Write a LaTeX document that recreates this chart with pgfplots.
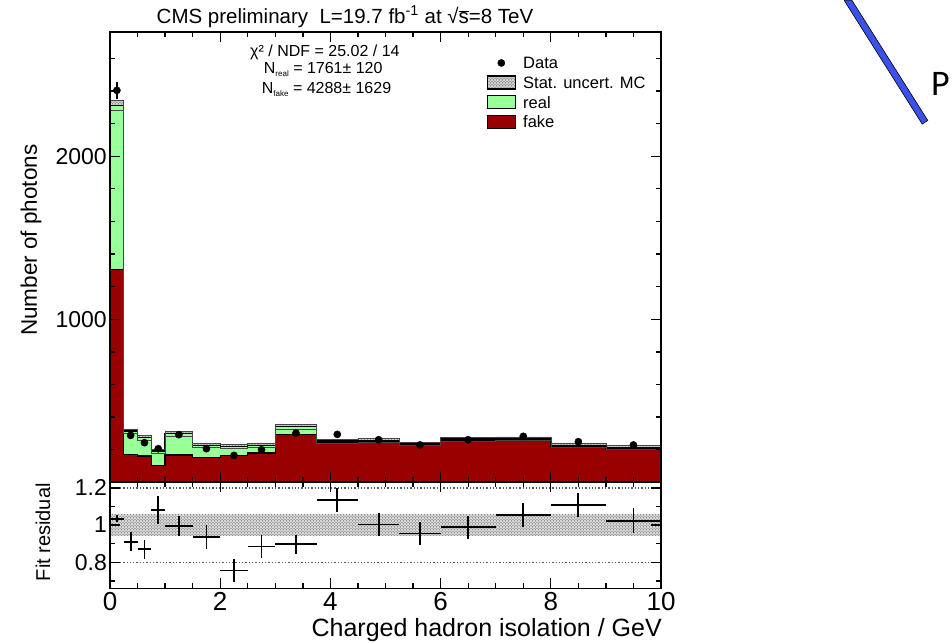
\documentclass[border=0pt]{standalone}
\usepackage{pgfplots}
\pgfplotsset{compat=1.18}
\usepackage{pgfplotstable}
\usepgfplotslibrary{fillbetween}
\usetikzlibrary{patterns}
\usepackage{fontspec}
\setmainfont{Liberation Sans}
\newfontfamily\pfont{Carlito}
\definecolor{realgreen}{RGB}{153,255,153}
\definecolor{fakered}{RGB}{153,0,0}
\definecolor{slideblue}{RGB}{60,80,235}

% histogram: left bin edges (last row = right edge 10)
\pgfplotstableread{
x     fake  total  up    lo
0     1306  2312   2342  2282
0.25  171   314    327   301
0.5   161   273    286   260
0.75  104   191    203   179
1.0   168   298    311   285
1.5   151   226    238   214
2.0   165   220    232   208
2.5   179   226    238   214
3.0   294   341    355   327
3.75  240   253    265   241
4.5   249   256    268   244
5.25  229   236    248   224
6.0   258   265    277   253
7.0   260   267    279   255
8.0   219   226    238   214
9.0   205   212    224   200
10.0  205   212    224   200
}\hist

\pgfplotstableread{
x      y     ey
0.125  2404  51
0.375  288   17
0.625  243   16
0.875  206   14
1.25   292   17
1.75   206   14
2.25   165   13
2.75   200   14
3.375  302   17
4.125  294   17
4.875  261   16
5.625  229   15
6.5    261   16
7.5    282   17
8.5    249   16
9.5    229   15
}\data

\pgfplotstableread{
x      ex     y      ey
0.125  0.125  1.034  0.020
0.375  0.125  0.911  0.050
0.625  0.125  0.870  0.050
0.875  0.125  1.082  0.077
1.25   0.25   0.994  0.053
1.75   0.25   0.937  0.066
2.25   0.25   0.756  0.060
2.75   0.25   0.885  0.062
3.375  0.375  0.897  0.050
4.125  0.375  1.135  0.066
4.875  0.375  1.003  0.060
5.625  0.375  0.955  0.064
6.5    0.5    0.989  0.062
7.5    0.5    1.056  0.064
8.5    0.5    1.108  0.066
9.5    0.5    1.024  0.066
}\resid

\pgfplotsset{
  cmsaxis/.style={
    scale only axis, width=551pt, xmin=0, xmax=10,
    axis on top,
    axis line style={line width=1.6pt},
    tick align=inside, major tick length=10pt, minor tick length=5pt,
    tick style={black, line width=1.3pt},
    xtick={0,2,...,10}, minor x tick num=3,
    /pgf/number format/1000 sep={},
    /pgf/number format/assume math mode=true,
    yticklabel style={font=\fontsize{23}{23}\selectfont, inner sep=0pt, xshift=-3pt},
  }
}

\begin{document}
\begin{tikzpicture}[x=1pt,y=1pt]
\path (0,0) rectangle (952,642);

% ---------------- upper panel ----------------
\begin{axis}[cmsaxis,
  at={(110pt,160pt)}, anchor=south west, height=450pt,
  ymin=0, ymax=2760,
  xticklabels={},
  ytick={1000,2000}, minor ytick={200,400,600,800,1200,1400,1600,1800,2200,2400,2600},
  legend style={at={(rel axis cs:0.6837,0.9536)}, anchor=north west,
    draw=none, fill=none, inner sep=0pt, outer sep=0pt, row sep=0pt, column sep=0pt,
    font=\fontsize{16.5}{18}\selectfont,
    nodes={inner sep=0pt, text height=15.7pt, text depth=3.9pt}},
  legend cell align=left,
]
\addlegendimage{legend image code/.code={\fill[black] (14pt,0pt) circle (3.6pt); \path (0pt,0pt) (35.7pt,0pt);}}
\addlegendimage{legend image code/.code={\fill[gray!35] (0pt,-6.5pt) rectangle (28pt,6.5pt);
   \draw[black, line width=1.2pt, pattern=crosshatch dots, pattern color=gray!45!black] (0pt,-6.5pt) rectangle (28pt,6.5pt); \path (0pt,0pt) (35.7pt,0pt);}}
\addlegendimage{legend image code/.code={\draw[black, line width=1.2pt, fill=realgreen] (0pt,-6.5pt) rectangle (28pt,6.5pt); \path (0pt,0pt) (35.7pt,0pt);}}
\addlegendimage{legend image code/.code={\draw[black, line width=1.2pt, fill=fakered] (0pt,-6.5pt) rectangle (28pt,6.5pt); \path (0pt,0pt) (35.7pt,0pt);}}

\addplot[forget plot, const plot, fill=realgreen, draw=black, line width=1.4pt] table[x=x, y=total]{\hist} \closedcycle;
\addplot[forget plot, const plot, fill=fakered, draw=black, line width=1.4pt] table[x=x, y=fake]{\hist} \closedcycle;
\addplot[forget plot, const plot, name path=up, draw=none] table[x=x, y=up]{\hist};
\addplot[forget plot, const plot, name path=lo, draw=none] table[x=x, y=lo]{\hist};
\addplot[forget plot, fill=gray!35, draw=none] fill between[of=up and lo];
\addplot[forget plot, pattern=crosshatch dots, pattern color=gray!55!black, draw=none] fill between[of=up and lo];
\addplot[forget plot, const plot, draw=gray!55!black, line width=0.6pt] table[x=x, y=up]{\hist};
\addplot[forget plot, const plot, draw=gray!55!black, line width=0.6pt] table[x=x, y=lo]{\hist};

\addplot[forget plot, only marks, mark=*, mark size=3.6pt, black,
  error bars/.cd, y dir=both, y explicit, error mark=none,
  error bar style={line width=1.6pt}]
  table[x=x, y=y, y error=ey]{\data};

\legend{Data, Stat. uncert. MC, real, fake}

\node[anchor=base, font=\fontsize{16}{16}\selectfont, inner sep=0pt] at (rel axis cs:0.390,0.947) {χ² / NDF = 25.02 / 14};
\node[anchor=base, font=\fontsize{16}{16}\selectfont, inner sep=0pt] at (rel axis cs:0.387,0.9078) {N\raisebox{-3pt}{\fontsize{8}{8}\selectfont real} = 1761± 120};
\node[anchor=base, font=\fontsize{16}{16}\selectfont, inner sep=0pt] at (rel axis cs:0.393,0.8633) {N\raisebox{-3pt}{\fontsize{8}{8}\selectfont fake} = 4288± 1629};
\end{axis}

% ---------------- ratio panel ----------------
\begin{axis}[cmsaxis,
  at={(110pt,54pt)}, anchor=south west, height=106pt,
  ymin=0.66, ymax=1.23,
  ytick={0.8,1,1.2}, minor ytick={0.7,0.9,1.1},
  xticklabel style={font=\fontsize{26}{26}\selectfont, inner sep=0pt, yshift=-4pt},
]
\addplot[name path=bu, draw=none] coordinates {(0,1.058) (10,1.058)};
\addplot[name path=bl, draw=none] coordinates {(0,0.942) (10,0.942)};
\addplot[fill=gray!30, draw=none] fill between[of=bu and bl];
\addplot[pattern=crosshatch dots, pattern color=gray!55!black, draw=none] fill between[of=bu and bl];
\addplot[gray!70!black, dotted, line width=1.3pt] coordinates {(0,1.2) (10,1.2)};
\addplot[gray!70!black, dotted, line width=1.3pt] coordinates {(0,0.8) (10,0.8)};
\addplot[black, draw=none, mark=none,
  error bars/.cd, x dir=both, x explicit, y dir=both, y explicit, error mark=none,
  error bar style={draw=black, solid, line width=1.8pt}]
  table[x=x, y=y, x error=ex, y error=ey]{\resid};
\end{axis}

% ---------------- titles and labels ----------------
\node[anchor=base, font=\fontsize{20.5}{20.5}\selectfont, inner sep=0pt] at (345,619)
  {CMS preliminary\ \ L=19.7 fb\textsuperscript{-1} at √\(\overline{\mbox{s}}\)=8 TeV};
\node[rotate=90, font=\fontsize{22.5}{22.5}\selectfont, inner sep=0pt] at (31,402) {Number of photons};
\node[rotate=90, font=\fontsize{20}{20}\selectfont, inner sep=0pt] at (43,110) {Fit residual};
\node[anchor=base east, font=\fontsize{25}{25}\selectfont, inner sep=0pt] at (662,6) {Charged hadron isolation / GeV};

% slide decoration at the right edge
\filldraw[fill=slideblue, draw=black, line width=0.6pt, line join=round] (844.1,642) -- (851.9,642) -- (927.8,521.8) -- (922.2,518.2) -- cycle;
\node[anchor=base west, font=\pfont\fontsize{36}{36}\selectfont, inner sep=0pt] at (931,547) {P};
\end{tikzpicture}
\end{document}
